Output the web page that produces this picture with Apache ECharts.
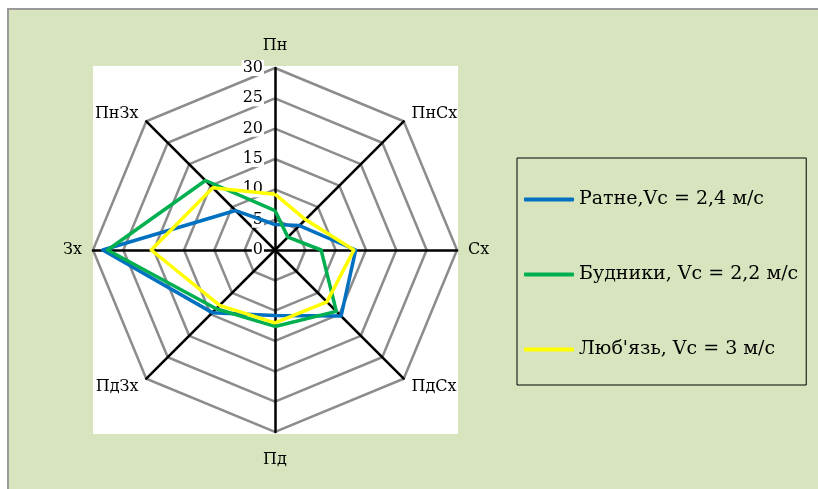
<!DOCTYPE html>
<html>
<head>
<meta charset="utf-8">
<script src="https://cdn.jsdelivr.net/npm/echarts@6/dist/echarts.min.js"></script>
<style>
html,body{margin:0;padding:0;background:#ffffff;}
#c{width:818px;height:489px;}
</style>
</head>
<body>
<div id="c"></div>
<script>
// Directions listed clockwise from north
const directions = ['Пн', 'ПнСх', 'Сх', 'ПдСх', 'Пд', 'ПдЗх', 'Зх', 'ПнЗх'];
const seriesNames = ['Ратне,Vc = 2,4 м/с', 'Будники, Vc = 2,2 м/с', "Люб'язь, Vc = 3 м/с"];
const ratne    = [4.2, 5.7, 13.3, 15.4, 10.8, 14.6, 28.4, 9.2];
const budnyky  = [6.5, 3.0, 7.6, 14.3, 12.6, 13.7, 27.6, 16.2];
const lyubyaz  = [9.2, 7.1, 13.0, 12.1, 12.0, 12.9, 20.4, 14.5];
const axisMax = 30;
const axisSplits = 6;

const colors = ['#0070C0', '#00B050', '#FFFF00'];
const font = 'DejaVu Serif';

// ECharts radar places indicators counter-clockwise; reorder to draw clockwise
const order = [0, 7, 6, 5, 4, 3, 2, 1];
const reorder = arr => order.map(i => arr[i]);

const chart = echarts.init(document.getElementById('c'));
const indicator = order.map((idx, i) => ({
  name: directions[idx], min: 0, max: axisMax,
  axisLabel: i === 0 ? {
    show: true, color: '#000', fontFamily: font, fontSize: 16,
    backgroundColor: '#fff', padding: [0, 1], margin: 11
  } : {show: false}
}));

chart.setOption({
  animation: false,
  backgroundColor: '#ffffff',
  graphic: [
    {type: 'rect', shape: {x: 8, y: 9, width: 820, height: 490},
     style: {fill: '#D7E4BD', stroke: '#9A9A9A', lineWidth: 2}, z: -10},
    {type: 'rect', shape: {x: 93, y: 66, width: 365, height: 368},
     style: {fill: '#ffffff'}, z: -9}
  ],
  legend: {
    orient: 'vertical',
    left: 517, top: 158,
    padding: [32, 8, 26, 7],
    itemGap: 56,
    itemWidth: 50, itemHeight: 4,
    icon: 'roundRect',
    borderColor: '#000', borderWidth: 1,
    textStyle: {fontFamily: font, fontSize: 19, color: '#000'},
    data: seriesNames
  },
  radar: {
    center: [275, 250],
    radius: 182,
    shape: 'polygon',
    startAngle: 90,
    splitNumber: axisSplits,
    indicator: indicator,
    axisName: {
      color: '#000', fontFamily: font, fontSize: 16,
      formatter: name => name === 'Пд' ? '{d|' + name + '}' : (name === 'Пн' ? '{u|' + name + '}' : name),
      rich: {
        d: {fontFamily: font, fontSize: 16, color: '#000', padding: [9, 0, 0, 0]},
        u: {fontFamily: font, fontSize: 16, color: '#000', padding: [0, 0, 3, 0]}
      }
    },
    nameGap: 11,
    axisLine: {lineStyle: {color: '#000', width: 2.5}},
    splitLine: {lineStyle: {color: '#8C8C8C', width: 2.5}},
    splitArea: {show: false},
    axisTick: {show: false},
    axisLabel: {show: false}
  },
  series: [{
    type: 'radar',
    symbol: 'none',
    data: [
      {name: seriesNames[0], value: reorder(ratne), lineStyle: {color: colors[0], width: 3.5}, itemStyle: {color: colors[0]}},
      {name: seriesNames[1], value: reorder(budnyky), lineStyle: {color: colors[1], width: 3.5}, itemStyle: {color: colors[1]}},
      {name: seriesNames[2], value: reorder(lyubyaz), lineStyle: {color: colors[2], width: 3.5}, itemStyle: {color: colors[2]}}
    ]
  }]
});
</script>
</body>
</html>
